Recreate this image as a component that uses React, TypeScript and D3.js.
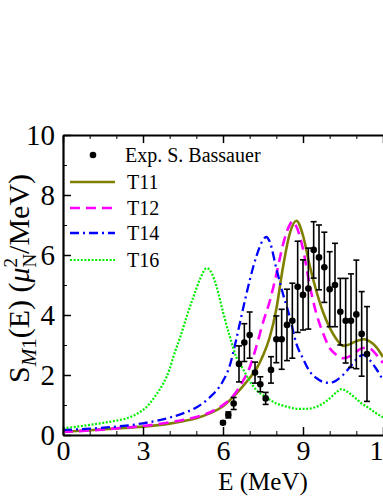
import React, { useEffect, useRef } from "react";
import * as d3 from "d3";

// experimental points (S. Bassauer)
const expE = [6.0, 6.2, 6.4, 6.6, 6.8, 7.0, 7.2, 7.4, 7.6, 7.8, 8.0, 8.2, 8.4, 8.6, 8.8, 9.0, 9.2, 9.4, 9.6, 9.8, 10.0, 10.2, 10.4, 10.6, 10.8, 11.0, 11.2, 11.4];
const expS = [0.41, 0.67, 1.05, 2.37, 3.08, 3.33, 2.08, 1.69, 1.22, 2.17, 3.19, 3.19, 3.67, 3.81, 4.94, 4.67, 4.88, 6.17, 5.92, 5.59, 4.86, 5.0, 4.11, 3.81, 3.81, 4.02, 3.37, 2.7];
const expErr = [0.05, 0.1, 0.2, 0.6, 0.63, 0.77, 0.35, 0.25, 0.2, 0.44, 0.78, 1.0, 1.19, 1.25, 1.52, 1.17, 1.35, 0.94, 1.08, 1.17, 1.25, 1.39, 1.11, 1.41, 1.56, 1.81, 1.41, 1.58];

const t11E = [0, 1, 2, 3, 4, 4.5, 5, 5.5, 6, 6.5, 7, 7.25, 7.5, 7.75, 8, 8.25, 8.5, 8.75, 9, 9.25, 9.5, 9.75, 10, 10.25, 10.5, 10.75, 11, 11.3, 11.5, 11.75, 12];
const t11S = [0.11, 0.16, 0.22, 0.28, 0.38, 0.46, 0.56, 0.72, 0.96, 1.38, 1.9, 2.2, 2.65, 3.25, 4.2, 5.6, 6.7, 7.14, 6.65, 5.65, 4.8, 4.1, 3.58, 3.2, 2.97, 3.02, 3.13, 3.19, 3.12, 2.93, 2.6];

const t12E = [0, 1, 2, 3, 4, 4.5, 5, 5.5, 6, 6.4, 6.75, 7, 7.25, 7.5, 7.75, 8, 8.25, 8.5, 8.6, 8.75, 9, 9.25, 9.5, 9.75, 10, 10.25, 10.5, 10.75, 11, 11.25, 11.5, 11.75, 12];
const t12S = [0.1, 0.15, 0.22, 0.3, 0.42, 0.5, 0.6, 0.75, 1.0, 1.32, 1.8, 2.25, 2.95, 3.75, 4.45, 5.35, 6.35, 7.0, 7.12, 6.95, 6.2, 5.0, 4.05, 3.4, 2.9, 2.67, 2.56, 2.62, 2.78, 2.9, 2.88, 2.68, 2.4];

const t14E = [0, 1, 2, 3, 4, 4.5, 5, 5.5, 6, 6.25, 6.5, 6.75, 7, 7.25, 7.5, 7.62, 7.75, 8, 8.25, 8.5, 8.75, 9, 9.25, 9.5, 9.75, 10, 10.25, 10.5, 10.75, 11, 11.25, 11.5, 11.75, 12];
const t14S = [0.17, 0.21, 0.28, 0.39, 0.58, 0.72, 0.92, 1.25, 1.8, 2.3, 3.2, 4.2, 5.15, 5.95, 6.5, 6.6, 6.45, 5.55, 4.7, 3.95, 3.05, 2.55, 2.12, 1.9, 1.77, 1.74, 1.82, 2.0, 2.25, 2.52, 2.67, 2.5, 2.2, 1.83];

const t16E = [0, 0.7, 1.4, 2, 2.4, 2.8, 3.14, 3.5, 3.76, 4, 4.14, 4.39, 4.64, 4.89, 5.14, 5.39, 5.6, 5.76, 6, 6.25, 6.5, 6.75, 7, 7.25, 7.5, 7.75, 8, 8.25, 8.5, 8.8, 9.1, 9.5, 9.75, 10, 10.25, 10.45, 10.65, 10.9, 11.2, 11.5, 11.75, 12];
const t16S = [0.22, 0.3, 0.39, 0.48, 0.56, 0.72, 0.94, 1.35, 1.72, 2.2, 2.61, 3.25, 3.95, 4.6, 5.2, 5.56, 5.35, 4.94, 4.1, 3.3, 2.6, 2.2, 1.8, 1.5, 1.33, 1.18, 1.05, 0.98, 0.92, 0.87, 0.87, 0.94, 1.05, 1.22, 1.42, 1.53, 1.45, 1.28, 1.05, 0.88, 0.72, 0.59];

const series = [
  { name: "T11", E: t11E, S: t11S, color: "#808000", width: 2.6, dash: null },
  { name: "T12", E: t12E, S: t12S, color: "#ff00ff", width: 2.6, dash: "10,6" },
  { name: "T14", E: t14E, S: t14S, color: "#0000ff", width: 2.3, dash: "9,4,2,4" },
  { name: "T16", E: t16E, S: t16S, color: "#00ee00", width: 2.2, dash: "2,1.6" },
];

const xMajor = [0, 3, 6, 9, 12];
const xMinor = [1, 2, 4, 5, 7, 8, 10, 11];
const yMajor = [0, 2, 4, 6, 8, 10];
const yMinor = [1, 3, 5, 7, 9];

const FONT = "'Liberation Serif', 'Times New Roman', serif";

export default function App() {
  const ref = useRef<SVGSVGElement>(null);

  useEffect(() => {
    const svg = d3.select(ref.current);
    svg.selectAll("*").remove();

    const x = d3.scaleLinear().domain([0, 12]).range([63, 383]);
    const y = d3.scaleLinear().domain([0, 10]).range([435, 135]);

    svg
      .append("defs")
      .append("clipPath")
      .attr("id", "plotclip")
      .append("rect")
      .attr("x", 63)
      .attr("y", 135)
      .attr("width", 330)
      .attr("height", 300);

    const plot = svg.append("g").attr("clip-path", "url(#plotclip)");

    // model curves
    const line = d3
      .line<number>()
      .x((d) => x(d))
      .curve(d3.curveMonotoneX);

    series.forEach((s) => {
      const path = plot
        .append("path")
        .attr("d", line.y((d, i) => y(s.S[i]))(s.E))
        .attr("fill", "none")
        .attr("stroke", s.color)
        .attr("stroke-width", s.width);
      if (s.dash) path.attr("stroke-dasharray", s.dash);
    });

    // experimental data with error bars
    const pts = plot.append("g");
    expE.forEach((e, i) => {
      const cx = x(e);
      const lo = y(expS[i] - expErr[i]);
      const hi = y(expS[i] + expErr[i]);
      pts.append("line").attr("x1", cx).attr("x2", cx).attr("y1", lo).attr("y2", hi).attr("stroke", "#000").attr("stroke-width", 1.6);
      [lo, hi].forEach((yy) =>
        pts.append("line").attr("x1", cx - 3).attr("x2", cx + 3).attr("y1", yy).attr("y2", yy).attr("stroke", "#000").attr("stroke-width", 1.6)
      );
      pts.append("circle").attr("cx", cx).attr("cy", y(expS[i])).attr("r", 3.3).attr("fill", "#000");
    });

    // axes
    const styleAxis = (g: any, size: number) => {
      g.attr("font-family", FONT);
      g.select(".domain").attr("stroke-width", 2.2);
      g.selectAll(".tick line").attr("stroke-width", 1.5);
      g.selectAll("text").attr("font-family", FONT).attr("font-size", size).attr("fill", "#000");
    };

    svg.append("g").attr("transform", "translate(0,435)")
      .call(d3.axisBottom(x).tickValues(xMinor).tickSize(-4).tickSizeOuter(0).tickFormat(() => ""))
      .call((g: any) => g.select(".domain").remove());
    svg.append("g").attr("transform", "translate(0,435)")
      .call(d3.axisBottom(x).tickValues(xMajor).tickSize(-8).tickSizeOuter(0).tickPadding(5).tickFormat(d3.format("d")))
      .call((g: any) => styleAxis(g, 28));

    svg.append("g").attr("transform", "translate(0,135)")
      .call(d3.axisTop(x).tickValues(xMinor).tickSize(-4).tickSizeOuter(0).tickFormat(() => ""))
      .call((g: any) => g.select(".domain").remove());
    svg.append("g").attr("transform", "translate(0,135)")
      .call(d3.axisTop(x).tickValues(xMajor).tickSize(-8).tickSizeOuter(0).tickFormat(() => ""))
      .call((g: any) => styleAxis(g, 28));

    svg.append("g").attr("transform", "translate(63,0)")
      .call(d3.axisLeft(y).tickValues(yMinor).tickSize(-4).tickSizeOuter(0).tickFormat(() => ""))
      .call((g: any) => g.select(".domain").remove());
    svg.append("g").attr("transform", "translate(63,0)")
      .call(d3.axisLeft(y).tickValues(yMajor).tickSize(-8).tickSizeOuter(0).tickPadding(8).tickFormat(d3.format("d")))
      .call((g: any) => styleAxis(g, 29));

    // axis titles
    svg.append("text")
      .attr("x", 263).attr("y", 490)
      .attr("text-anchor", "middle")
      .attr("font-family", FONT).attr("font-size", 25)
      .text("E (MeV)");

    const yl = svg.append("text")
      .attr("transform", "translate(29,383) rotate(-90)")
      .attr("font-family", FONT).attr("font-size", 30);
    yl.append("tspan").text("S");
    yl.append("tspan").attr("font-style", "italic").attr("font-size", 21).attr("dy", 7).text("M");
    yl.append("tspan").attr("font-size", 21).text("1");
    yl.append("tspan").attr("dy", -7).text("(E) (");
    yl.append("tspan").attr("font-style", "italic").text("μ");
    yl.append("tspan").attr("font-size", 19).attr("dy", 7).text("N");
    yl.append("tspan").attr("font-size", 19).attr("dx", -13.7).attr("dy", -19).text("2");
    yl.append("tspan").attr("dx", 4).attr("dy", 12).text("/MeV)");

    // legend
    const leg = svg.append("g").attr("font-family", FONT).attr("font-size", 20);
    leg.append("circle").attr("cx", 93).attr("cy", 155).attr("r", 3.3).attr("fill", "#000");
    leg.append("text").attr("x", 125).attr("y", 162).text("Exp. S. Bassauer");
    const legY = [182, 208, 233, 260];
    series.forEach((s, i) => {
      const l = leg.append("line").attr("x1", 70).attr("x2", 115).attr("y1", legY[i]).attr("y2", legY[i])
        .attr("stroke", s.color).attr("stroke-width", s.width);
      if (s.dash) l.attr("stroke-dasharray", s.dash);
      leg.append("text").attr("x", 127).attr("y", legY[i] + 7).text(s.name);
    });
  }, []);

  return (
    <svg ref={ref} width={383} height={496} style={{ position: "absolute", left: 0, top: 0, background: "#fff" }}>
    </svg>
  );
}
